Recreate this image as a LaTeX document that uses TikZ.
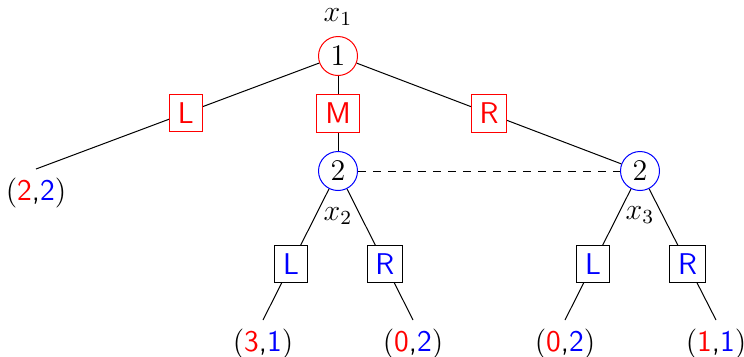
\documentclass[tikz,border=0pt]{standalone}
% payoff pair: red for player 1, blue for player 2
\newcommand\payo[2]{$($\textcolor{red}{\textsf{#1}}\textsf{,}\textcolor{blue}{\textsf{#2}}$)$}
\begin{document}
\begin{tikzpicture}[x=0.4pt,y=-0.4pt, every node/.style={font=\large},
  player/.style={circle, draw, minimum size=15.6pt, inner sep=0pt},
  move/.style={rectangle, draw, fill=white, font=\large\sffamily},
  movered/.style={move, draw=red, text=red},
  moveblue/.style={move, draw=black, text=blue},
  payoff/.style={anchor=north}]
\useasboundingbox (0,0) rectangle (744,356);

% decision nodes and information-set labels
\node[player, draw=red] (p1) at (338,56) {$1$};
\node (x1) at (338,17) {$x_1$};
\node[player, draw=blue] (p2) at (338,171) {$2$};
\node[player, draw=blue] (p3) at (640,171) {$2$};
\node (x2) at (338,216) {$x_2$};
\node (x3) at (640,215) {$x_3$};

% terminal payoffs
\node[payoff] (a) at (36,169) {\payo{2}{2}};
\node[payoff] (b) at (263,320) {\payo{3}{1}};
\node[payoff] (c) at (413,320) {\payo{0}{2}};
\node[payoff] (d) at (565,320) {\payo{0}{2}};
\node[payoff] (e) at (716,320) {\payo{1}{1}};

% player 1 moves
\draw (p1) -- node[movered, pos=0.471] (m1L) {L} (a.north);
\draw (p1) -- node[movered] (m1M) {M} (p2);
\draw (p1) -- node[movered] (m1R) {R} (p3);

% player 2 moves
\draw (p2) -- node[moveblue, pos=0.574] (m2L) {L} (b.north);
\draw (p2) -- node[moveblue, pos=0.574] (m2R) {R} (c.north);
\draw (p3) -- node[moveblue, pos=0.574] (m3L) {L} (d.north);
\draw (p3) -- node[moveblue, pos=0.574] (m3R) {R} (e.north);

% information set
\draw[dashed] (p2) -- (p3);
\end{tikzpicture}
\end{document}
